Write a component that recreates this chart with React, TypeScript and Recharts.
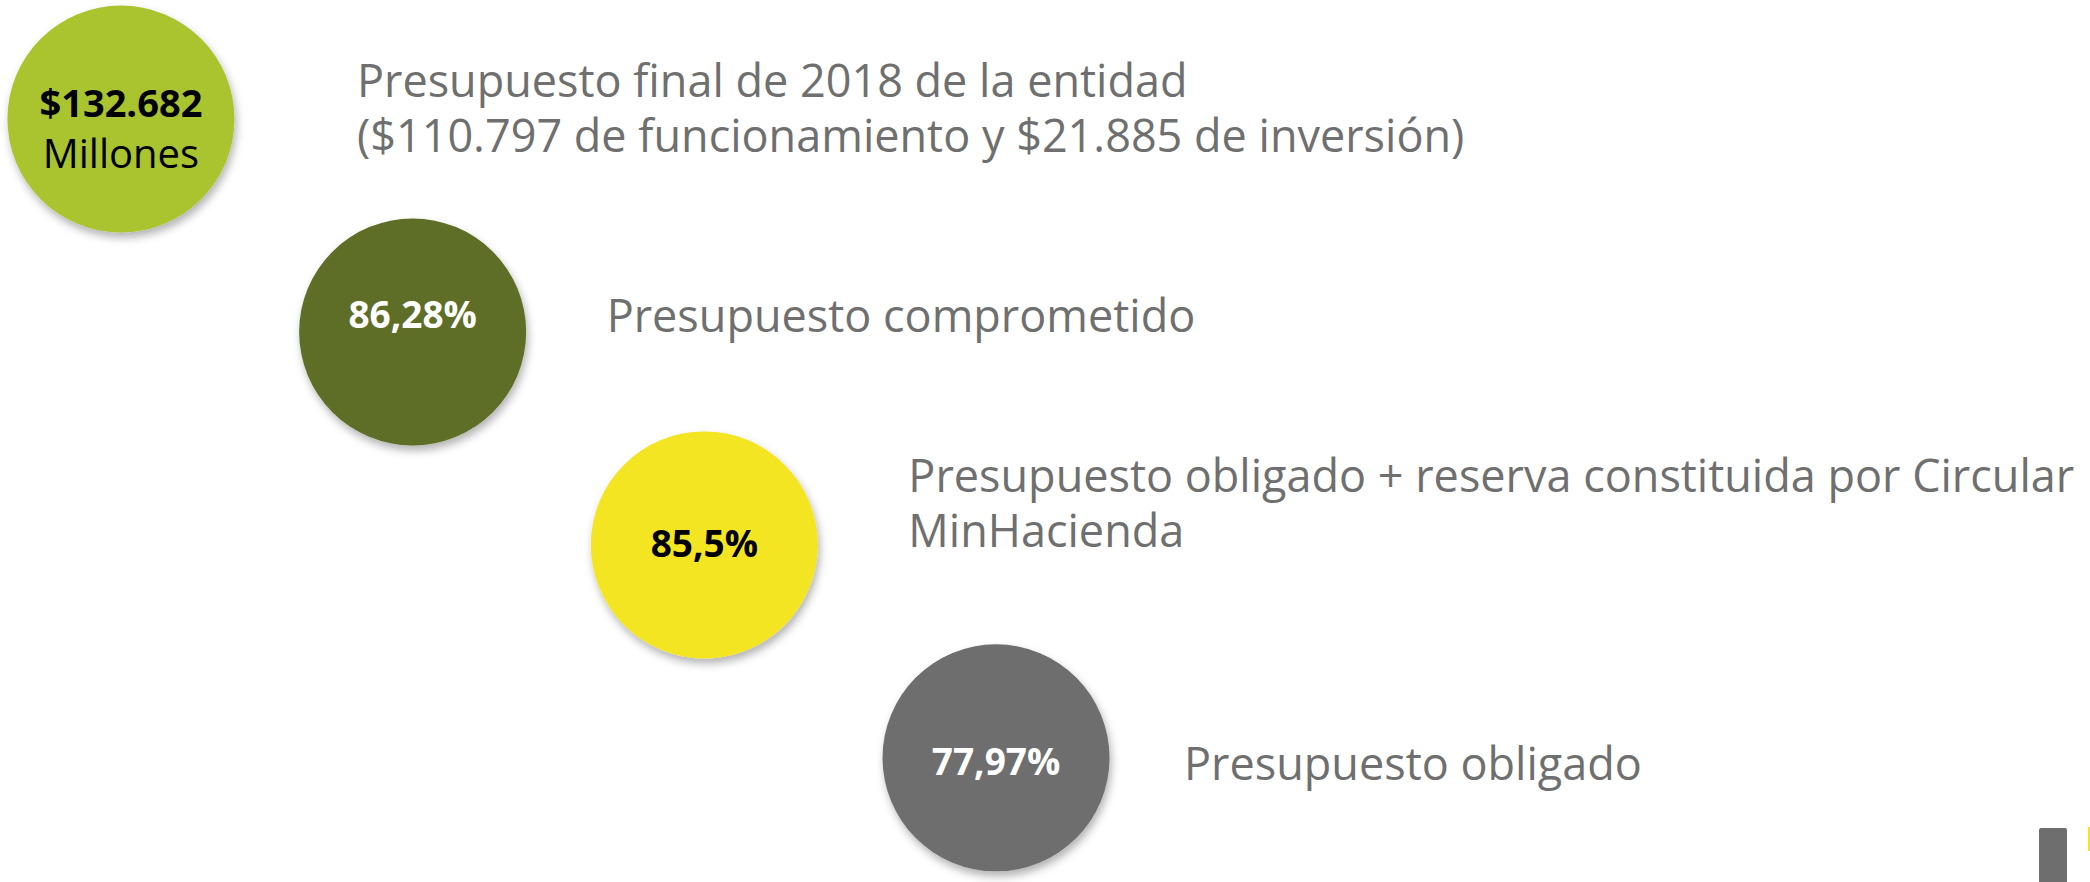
import React from "react";
import { ScatterChart, Scatter, XAxis, YAxis } from "recharts";

// Pasos del presupuesto (uno por circulo)
const steps = [1, 2, 3, 4];
const values = ["$132.682", "86,28%", "85,5%", "77,97%"];
const subValues = ["Millones", "", "", ""];
const descriptions = [
  ["Presupuesto final de 2018 de la entidad", "($110.797 de funcionamiento y $21.885 de inversión)"],
  ["Presupuesto comprometido"],
  ["Presupuesto obligado + reserva constituida por Circular", "MinHacienda"],
  ["Presupuesto obligado"],
];

const data = steps.map((s, i) => ({
  step: s,
  value: values[i],
  sub: subValues[i],
  desc: descriptions[i],
}));

// estilos
const W = 2090;
const H = 882;
const R = 113.5;
const FONT = "'Segoe UI', 'Open Sans', sans-serif";
const fills = ["#a9c42f", "#5e6e28", "#f3e524", "#6e6e6e"];
const valueColors = ["#000000", "#ffffff", "#000000", "#ffffff"];
const valueDy = [-2, -4, 12, 17];
const labelDx = [236, 194, 204, 188];
const labelBase = [-22, 0, -53, 22];
const LINE_H = 55;

function Bubble(props: any) {
  const { cx, cy, index } = props;
  const p = props.payload;
  const i = index ?? steps.indexOf(p.step);
  return (
    <g>
      <circle cx={cx} cy={cy} r={R} fill={fills[i]} filter="url(#bubbleShadow)" />
      <text x={cx} y={cy + valueDy[i]} textAnchor="middle" fontFamily={FONT} fontWeight={700} fontSize={p.sub ? 38 : 37} fill={valueColors[i]}>
        {p.value}
      </text>
      {p.sub ? (
        <text x={cx} y={cy + valueDy[i] + 51} textAnchor="middle" fontFamily={FONT} fontSize={40} fill={valueColors[i]}>
          {p.sub}
        </text>
      ) : null}
      {p.desc.map((line: string, k: number) => (
        <text
          key={k}
          x={cx + labelDx[i]}
          y={cy + labelBase[i] + k * LINE_H}
          fontFamily={FONT}
          fontSize={45}
          fill="#6f6f6f"
        >
          {line}
        </text>
      ))}
    </g>
  );
}

export default function App() {
  return (
    <div style={{ position: "absolute", left: 0, top: 0, width: W, height: H, background: "#ffffff", overflow: "hidden" }}>
      <ScatterChart width={W} height={H} margin={{ top: 0, right: 0, bottom: 0, left: 0 }}>
        <defs>
          <filter id="bubbleShadow" x="-20%" y="-20%" width="150%" height="150%">
            <feDropShadow dx="2" dy="5" stdDeviation="4" floodColor="#000000" floodOpacity="0.3" />
          </filter>
        </defs>
        <XAxis type="number" dataKey="step" domain={[0.5854, 7.7504]} hide />
        <YAxis type="number" dataKey="step" domain={[0.4412, 4.583]} reversed hide />
        <Scatter data={data} shape={<Bubble />} isAnimationActive={false} />
      </ScatterChart>
      <div
        style={{
          position: "absolute",
          left: 2039,
          top: 828,
          width: 28,
          height: 60,
          background: "#6e6e6e",
          borderRadius: "2px 2px 0 0",
        }}
      />
      <div style={{ position: "absolute", left: 2088, top: 827, width: 2, height: 24, background: "#f3e524" }} />
    </div>
  );
}
